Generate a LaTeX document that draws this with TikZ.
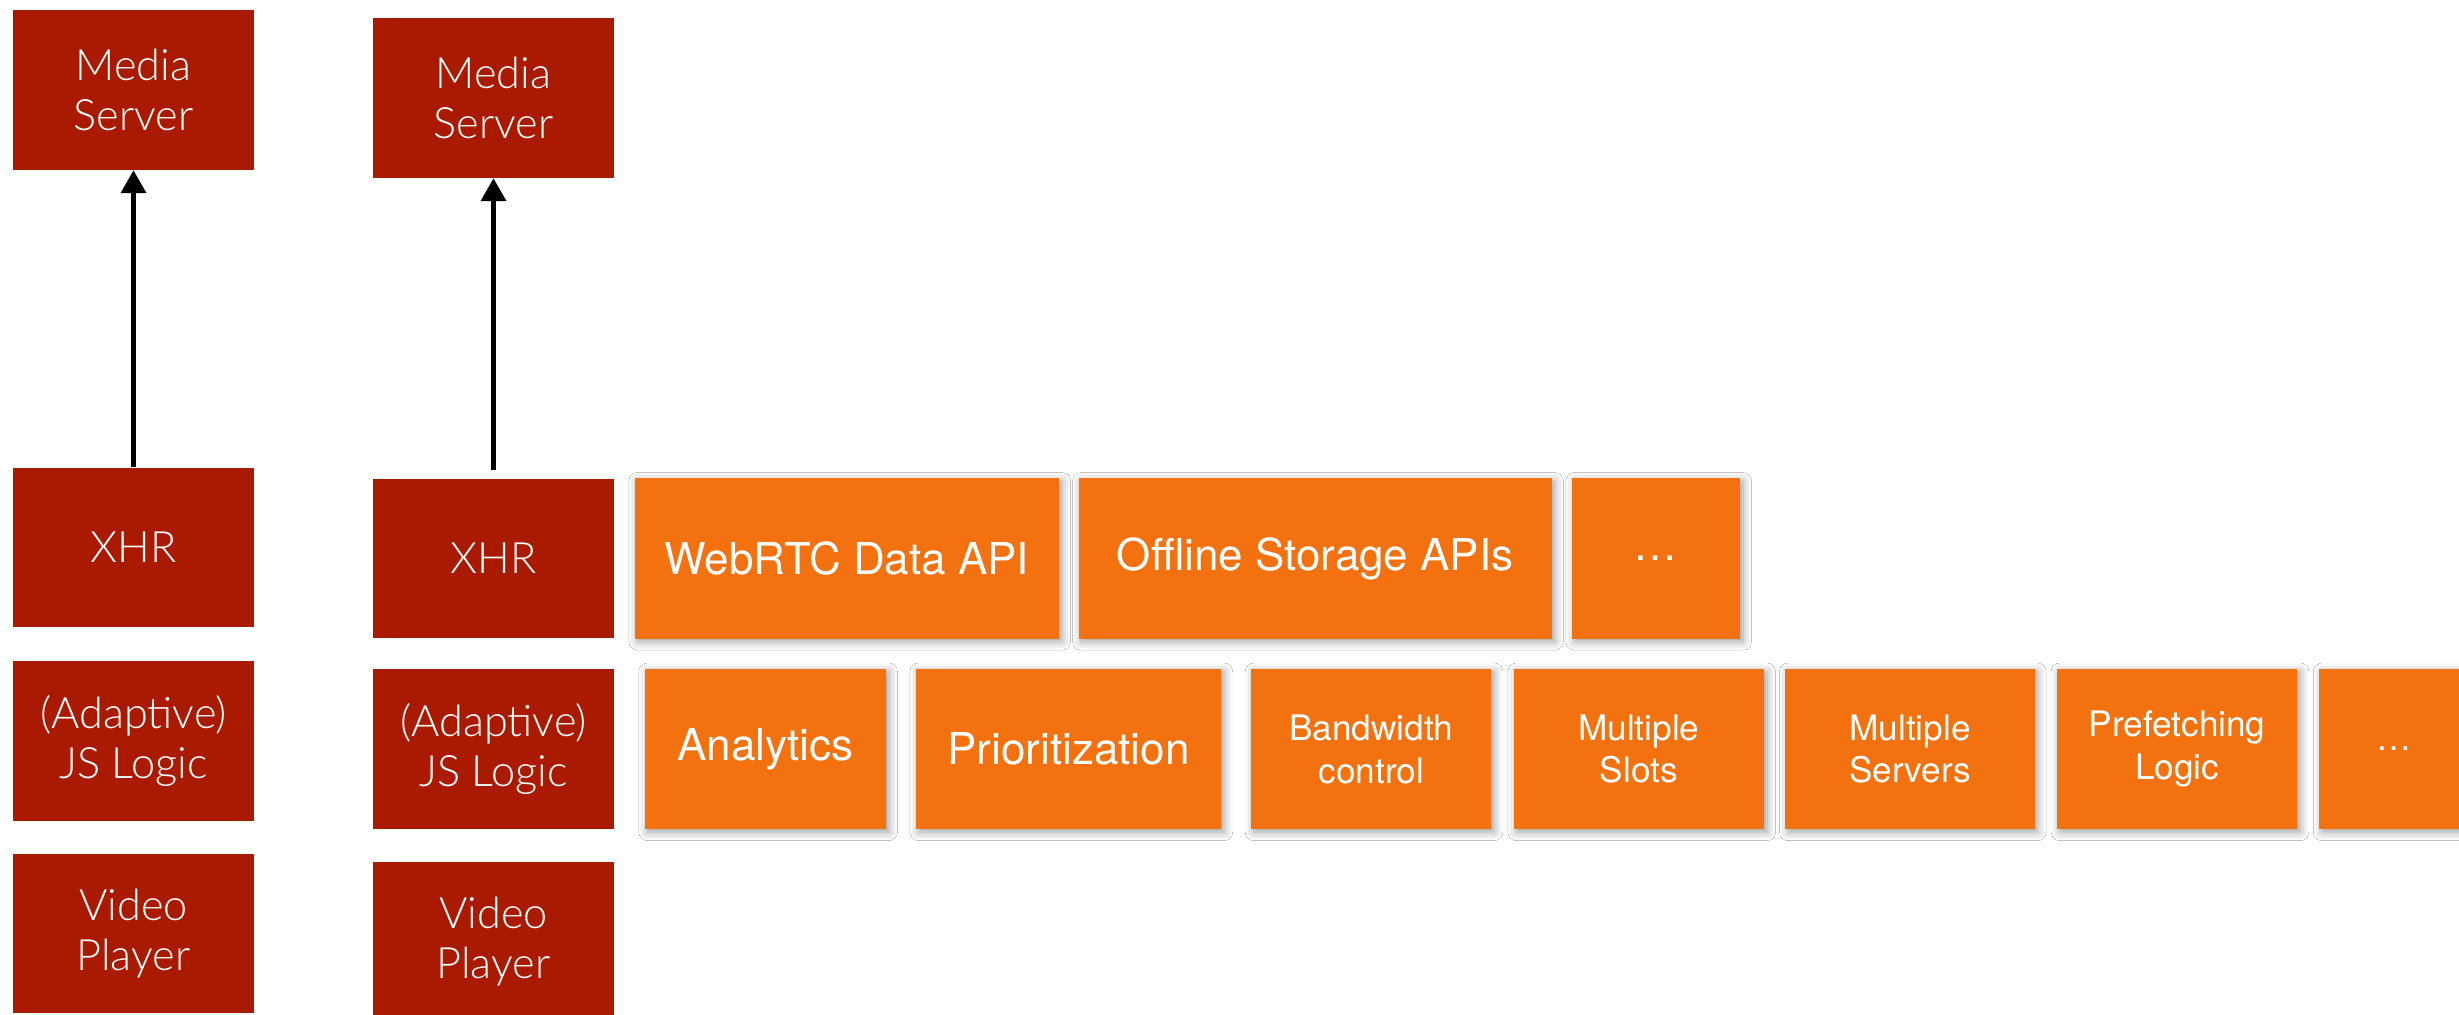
\documentclass[tikz,border=0pt]{standalone}
\usepackage{fontspec}
\setmainfont{Lato}[UprightFont=* Light]
\newfontfamily\heros{TeX Gyre Heros}
\usetikzlibrary{arrows.meta, positioning, shadows.blur}
\definecolor{serverred}{RGB}{170,26,0}
\definecolor{apiorange}{RGB}{244,113,15}
\tikzset{
  RedBox/.style = {
    fill=serverred, text=white, align=center, inner sep=0pt,
    minimum width=2.41cm, minimum height=1.59cm,
    font=\fontsize{12.3}{14.2}\selectfont,
  },
  OrangeBox/.style = {
    fill=apiorange, text=white, align=center, inner sep=0pt, outer sep=0pt,
    minimum width=#1, minimum height=1.6cm,
    font=\heros\fontsize{12.5}{15}\selectfont,
    blur shadow={shadow xshift=0.8pt, shadow yshift=-0.8pt,
      shadow blur radius=2.5pt, shadow opacity=40},
  },
  SmallText/.style = {font=\heros\fontsize{10}{12.2}\selectfont},
  Arrow1/.style = {
    draw, line width=1.4pt,
    -{Triangle[length=6.5pt, width=7pt]},
  }
}

\begin{document}
\begin{tikzpicture}[x=0.01cm, y=-0.01cm]
  \clip (0,0) rectangle (2459,1015);
  \fill[white] (0,0) rectangle (2459,1015);
  % XHR only
  \draw
    (133.5,90)node[RedBox](ms1){Media\\Server}
    (133.5,547.5)node[RedBox](xhr1){XHR}
    node[RedBox, below=0.33cm of xhr1](js1){(Adaptive)\\JS Logic}
    node[RedBox, below=0.32cm of js1](vp1){Video\\Player};
  \draw (xhr1)[Arrow1] -- (ms1);
  % XHR plus the other APIs
  \draw
    (493.5,98)node[RedBox](ms2){Media\\Server}
    (493.5,558.5)node[RedBox](xhr2){XHR}
    node[RedBox, below=0.3cm of xhr2](js2){(Adaptive)\\JS Logic}
    node[RedBox, below=0.32cm of js2](vp2){Video\\Player};
  \draw ([yshift=0.08cm]xhr2.north)[Arrow1] -- (ms2.south);
  % transport APIs
  \node[OrangeBox=4.24cm, right=0.2cm of xhr2](webrtc){WebRTC Data API};
  \node[OrangeBox=4.73cm, right=0.195cm of webrtc](storage){Offline Storage APIs};
  \node[OrangeBox=1.68cm, right=0.2cm of storage](apidots){\ldots};
  % logic modules
  \node[OrangeBox=2.41cm, right=0.3cm of js2](analytics){Analytics};
  \node[OrangeBox=3.05cm, right=0.3cm of analytics](prio){Prioritization};
  \node[OrangeBox=2.4cm, SmallText, right=0.3cm of prio](bw){Bandwidth\\control};
  \node[OrangeBox=2.5cm, SmallText, right=0.225cm of bw](slots){Multiple\\Slots};
  \node[OrangeBox=2.49cm, SmallText, right=0.215cm of slots](servers){Multiple\\Servers};
  \node[OrangeBox=2.4cm, SmallText, right=0.225cm of servers](prefetch){Prefetching\\Logic};
  \node[OrangeBox=1.5cm, SmallText, right=0.22cm of prefetch](logicdots){\ldots};
\end{tikzpicture}
\end{document}
